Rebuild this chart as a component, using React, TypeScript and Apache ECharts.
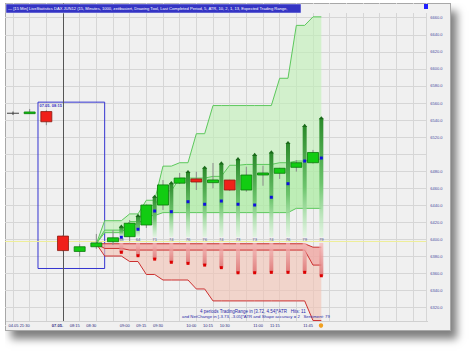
import React, { useEffect, useRef } from "react";
import * as echarts from "echarts";

// ---------------- data ----------------
const barTimes = ["04.05 21:15", "04.05 21:30", "04.05 21:45", "07.05.", "08:15", "08:30", "08:45", "09:00", "09:15", "09:30", "09:45", "10:00", "10:15", "10:30", "10:45", "11:00", "11:15", "11:30", "11:45"];
const labelledBars = [1, 3, 4, 5, 7, 8, 9, 11, 12, 13, 15, 16, 18];
const boldLabelBar = 3;

const candleOpen = [6548, 6547.5, 6550, 6404, 6386, 6391.5, 6397.4, 6403.3, 6417, 6440.4, 6466, 6471, 6466.6, 6469.7, 6458, 6475.6, 6477.6, 6484.6, 6490];
const candleClose = [6548, 6549.5, 6538, 6387, 6391.5, 6396, 6402, 6419, 6440.4, 6464, 6472, 6467.4, 6469.8, 6458, 6475.6, 6478, 6483.5, 6490, 6502];
const candleLow = [6546, 6547.5, 6534, 6386, 6380, 6389, 6393.5, 6398, 6413.5, 6434.6, 6465, 6458, 6460, 6457, 6456, 6463, 6471, 6479.5, 6489];
const candleHigh = [6550, 6553, 6551.5, 6405, 6394.5, 6406.5, 6411, 6422.8, 6441, 6469.7, 6478, 6479.5, 6489.7, 6470, 6485.3, 6486.5, 6484, 6493, 6505];

// expected trading range envelopes (bars 6..18), starting from bar 5
const rangeStartBar = 5;
const rangeStartPrice = 6395;
const greenOuter = [6422, 6430, 6446, 6486, 6490, 6524, 6557, 6557, 6557, 6557, 6589, 6651, 6661];
const greenInnerTop = [6411, 6421, 6440, 6457, 6472, 6472, 6474, 6487, 6488, 6488, 6490, 6492, 6494];
const greenInnerBottom = [6408, 6418, 6428, 6431.5, 6431.5, 6431.5, 6431.5, 6431.5, 6431.5, 6431.5, 6431.5, 6436.5, 6436.5];
const redInnerTop = [6395, 6395, 6395, 6395, 6395, 6395, 6395, 6395, 6395, 6395, 6395, 6395, 6391];
const redInnerBottom = [6389.5, 6387.6, 6387.6, 6387.6, 6387.6, 6387.6, 6387.6, 6387.6, 6387.6, 6387.6, 6387.6, 6387.6, 6370];
const redOuter = [6380.6, 6374.2, 6359, 6352.5, 6352.5, 6342, 6328, 6328, 6328, 6328, 6328, 6328, 6305];

// forecast columns (between bars 6..18)
const colTop = [6415, 6427.5, 6450, 6466, 6479, 6484, 6489, 6494, 6499, 6502, 6513, 6533, 6542];
const colBlue = [6402.6, 6412, 6433.4, 6432.6, 6444.3, 6441.3, 6445.1, 6441.3, 6440.4, 6449.5, 6465.4, 6492, 6495.5];
const colRed = [6385, 6381, 6377, 6373.3, 6372, 6370, 6367, 6361, 6361, 6361.5, 6361.5, 6361.5, 6357.5];
const colLabels = [58, 64, 71, 74, 76, 76, 74, 73, 73, 74, 76, 79, 79];

const refPrice = 6398;
const lastClose = 6502;
const scaleHigh = 6669;
const scaleLow = 6307.5;
const boxStart = [1.5, 6561];
const boxEnd = [5.5, 6366];
const boxLabel = "07.05. 08:15";
const sessionBar = 3;

const titleText = "— [15 Min] LiveStatistics DAX JUN12 (15, Minutes, 1000, zeitbasiert, Drawing Tool, Last Completed Period, 5, ATR, 10, 2, 1, 13, Expected Trading Range,";
const infoLine1 = "4 periods TradingRange in [3.72, 4.54]*ATR   Hits: 11";
const infoLine2 = "and NetChange in [-3.73, -3.05]*ATR and Shape accuracy = 2   Sentiment: 79";

// ---------------- chart ----------------
const Y_MIN = 6300;
const Y_MAX = 6680;
const Y_STEP = 20;
const X_MIN = -1;
const X_MAX = 24.8;
const FONT = "Liberation Sans, Arial, sans-serif";

function stepLine(vals: number[]): number[][] {
  const pts: number[][] = [[rangeStartBar, rangeStartPrice]];
  vals.forEach((v, i) => {
    const n = rangeStartBar + 1 + i;
    pts.push([i === 0 ? n - 0.5 : n, v]);
    pts.push([n + 0.5, v]);
  });
  return pts;
}

export default function App() {
  const ref = useRef<HTMLDivElement>(null);
  useEffect(() => {
    if (!ref.current) return;
    const chart = echarts.init(ref.current, null, { renderer: "svg" });

    const candleData = candleOpen.map((o, i) => [i, o, candleClose[i], candleLow[i], candleHigh[i]]);
    const colData = colTop.map((t, i) => [rangeStartBar + 1.5 + i, t, colBlue[i], colRed[i], colLabels[i]]);

    const gO = stepLine(greenOuter);
    const gT = stepLine(greenInnerTop);
    const gB = stepLine(greenInnerBottom);
    const rT = stepLine(redInnerTop);
    const rB = stepLine(redInnerBottom);
    const rO = stepLine(redOuter);

    const boxedLabel = (bg: string) => ({
      show: true, position: "end", distance: 3, fontSize: 4, color: "#4a4aa0", fontFamily: FONT,
      backgroundColor: bg, borderColor: "#9a9a9a", borderWidth: 0.6, padding: [1, 2, 1, 2],
    });

    const option: any = {
      animation: false,
      backgroundColor: "transparent",
      grid: { left: -3.667, top: 0.64, width: 430, height: 324.16, containLabel: false, outerBoundsMode: "none" },
      xAxis: [
        {
          type: "value", min: X_MIN, max: X_MAX, interval: 1, position: "top",
          axisLine: { show: false }, axisTick: { show: false }, axisLabel: { show: false },
          splitLine: { show: true, lineStyle: { color: "#d6d6d6", width: 1 } },
        },
        {
          type: "value", min: X_MIN, max: X_MAX, position: "bottom", z: 120,
          axisLine: { show: false }, axisTick: { show: false }, splitLine: { show: false },
          axisLabel: {
            show: true, customValues: labelledBars, margin: -1.5, align: "right",
            fontSize: 4, color: "#2a2a80", fontFamily: FONT,
            formatter: (v: number) => {
              const i = Math.round(v);
              return i === boldLabelBar ? "{b|" + barTimes[i] + "}" : barTimes[i];
            },
            rich: { b: { fontWeight: "bold", fontSize: 4, color: "#2a2a80", fontFamily: FONT } },
          },
        },
      ],
      yAxis: [
        {
          type: "value", min: Y_MIN, max: Y_MAX, interval: Y_STEP, position: "left",
          axisLine: { show: false }, axisTick: { show: false }, axisLabel: { show: false },
          splitLine: { show: true, lineStyle: { color: "#d6d6d6", width: 1 } },
        },
        {
          type: "value", min: Y_MIN, max: Y_MAX, interval: Y_STEP, position: "right", z: 120,
          axisLine: { show: false }, axisTick: { show: false }, splitLine: { show: false },
          axisLabel: {
            show: true, margin: 4, fontSize: 4, color: "#4a4aa0", fontFamily: FONT, align: "left",
            formatter: (v: number) => (v === Y_MIN || v === Y_MAX || v === 6500 ? "" : v.toFixed(1)),
          },
        },
      ],
      series: [
        {
          type: "custom",
          z: 1,
          clip: true,
          data: [[rangeStartBar, rangeStartPrice]],
          renderItem: (params: any, api: any) => {
            const c = (pts: number[][]) => pts.map((p) => api.coord(p));
            const band = (up: number[][], lo: number[][]) => c(up.concat(lo.slice().reverse()));
            const line = (pts: number[][], stroke: string) => ({
              type: "polyline", shape: { points: c(pts) }, style: { stroke, fill: "none", lineWidth: 1 },
            });
            return {
              type: "group",
              children: [
                { type: "polygon", shape: { points: band(gO, gB) }, style: { fill: "rgba(190,240,180,0.6)" } },
                { type: "polygon", shape: { points: band(gT, gB) }, style: { fill: "rgba(165,232,155,0.45)" } },
                { type: "polygon", shape: { points: band(rT, rO) }, style: { fill: "rgba(242,196,180,0.62)" } },
                { type: "polygon", shape: { points: band(rT, rB) }, style: { fill: "rgba(240,160,160,0.6)" } },
                line(gO, "#5cc85c"),
                line(gT, "#5cc85c"),
                line(gB, "#5cc85c"),
                line(rT, "#cc3030"),
                line(rB, "#cc3030"),
                line(rO, "#cc3030"),
              ],
            };
          },
          markLine: {
            z: 1,
            silent: true, symbol: "none", animation: false,
            data: [
              { yAxis: refPrice, lineStyle: { color: "#eeee99", width: 1, type: "solid" }, label: { show: false } },
              { xAxis: sessionBar, lineStyle: { color: "#555555", width: 1, type: "solid" }, label: { show: false } },
              { yAxis: scaleHigh, lineStyle: { opacity: 0 }, label: { ...boxedLabel("#f6f6f6"), formatter: scaleHigh.toFixed(1) } },
              { yAxis: lastClose, lineStyle: { opacity: 0 }, label: { ...boxedLabel("#ffffc0"), formatter: lastClose.toFixed(1) } },
              { yAxis: scaleLow, lineStyle: { opacity: 0 }, label: { ...boxedLabel("#f6f6f6"), formatter: scaleLow.toFixed(1) } },
            ],
          },
        },
        {
          type: "custom",
          z: 2,
          data: candleData,
          renderItem: (params: any, api: any) => {
            const n = api.value(0), o = api.value(1), cl = api.value(2), lo = api.value(3), hi = api.value(4);
            const pO = api.coord([n, o]), pC = api.coord([n, cl]), pL = api.coord([n, lo]), pH = api.coord([n, hi]);
            const x = pO[0];
            const w = 11;
            const flat = o === cl;
            const up = cl > o;
            const top = Math.min(pO[1], pC[1]);
            const h = Math.max(Math.abs(pO[1] - pC[1]), 1.5);
            const children: any[] = [
              { type: "line", shape: { x1: x, y1: pH[1], x2: x, y2: pL[1] }, style: { stroke: flat ? "#404040" : "#8a8a8a", lineWidth: 1 } },
            ];
            if (flat) {
              children.push({ type: "line", shape: { x1: x - 6, y1: pO[1], x2: x + 6, y2: pO[1] }, style: { stroke: "#404040", lineWidth: 1 } });
            } else {
              children.push({
                type: "rect", shape: { x: x - w / 2, y: top, width: w, height: h },
                style: { fill: up ? "#12cc12" : "#f0201a", stroke: up ? "#0a7a0a" : "#8a1a10", lineWidth: 0.8 },
              });
            }
            return { type: "group", children };
          },
          markArea: {
            z: 1,
            silent: true,
            itemStyle: { color: "rgba(0,0,0,0)", borderColor: "#3434d0", borderWidth: 1 },
            label: { show: true, position: "insideTopLeft", distance: 2, formatter: boxLabel, fontSize: 4, fontWeight: "bold", color: "#3434c0", fontFamily: FONT },
            data: [[{ coord: boxStart }, { coord: boxEnd }]],
          },
        },
        {
          type: "custom",
          z: 3,
          data: colData,
          renderItem: (params: any, api: any) => {
            const x = api.value(0);
            const top = api.coord([x, api.value(1)]);
            const blue = api.coord([x, api.value(2)]);
            const red = api.coord([x, api.value(3)]);
            const gBot = api.coord([x, 6403]);
            const rTop = api.coord([x, 6396]);
            const lab = api.coord([x, 6400]);
            const px = top[0];
            const w = 4;
            return {
              type: "group",
              children: [
                {
                  type: "rect", shape: { x: px - w / 2, y: top[1], width: w, height: gBot[1] - top[1] },
                  style: { fill: new echarts.graphic.LinearGradient(0, 0, 0, 1, [{ offset: 0, color: "#2a8a2a" }, { offset: 0.55, color: "#6cc46c" }, { offset: 1, color: "rgba(215,245,215,0.6)" }]) },
                },
                { type: "polygon", shape: { points: [[px - 2.6, top[1] + 1], [px + 2.6, top[1] + 1], [px, top[1] - 2.2]] }, style: { fill: "#1a6a1a" } },
                {
                  type: "rect", shape: { x: px - w / 2, y: rTop[1], width: w, height: red[1] - rTop[1] },
                  style: { fill: new echarts.graphic.LinearGradient(0, 0, 0, 1, [{ offset: 0, color: "rgba(245,185,185,0.7)" }, { offset: 1, color: "rgba(220,110,110,0.85)" }]) },
                },
                { type: "rect", shape: { x: blue[0] - 1.5, y: blue[1] - 1.5, width: 3, height: 3 }, style: { fill: "#1010e0" } },
                { type: "rect", shape: { x: red[0] - 1.5, y: red[1] - 1.5, width: 3, height: 3 }, style: { fill: "#dd0000" } },
                { type: "text", x: px, y: lab[1], style: { text: String(api.value(4)), fontSize: 4.2, fill: "#55558a", align: "center", verticalAlign: "middle", fontFamily: FONT } },
              ],
            };
          },
        },
      ],
      graphic: [
        { type: "rect", z: 100, shape: { x: 0, y: 0, width: 5, height: 352 }, style: { fill: "#ffffff" } },
        { type: "rect", z: 100, shape: { x: 0, y: 0, width: 469, height: 3 }, style: { fill: "#ffffff" } },
        { type: "rect", z: 100, shape: { x: 6, y: 4, width: 422, height: 9 }, style: { fill: "#f0f0f0" } },
        { type: "rect", z: 100, shape: { x: 6, y: 321.5, width: 422, height: 8.5 }, style: { fill: "#f0f0f0" } },
        { type: "line", z: 101, shape: { x1: 6, y1: 321.5, x2: 428, y2: 321.5 }, style: { stroke: "#d0d0d0", lineWidth: 1 } },
        { type: "rect", z: 110, shape: { x: 6, y: 4, width: 295, height: 9 }, style: { fill: "#3434c4", stroke: "#e8e8ff", lineWidth: 0.5 } },
        { type: "text", z: 111, x: 8, y: 8.7, style: { text: titleText, fontSize: 4.1, fill: "#ffffff", fontFamily: FONT, verticalAlign: "middle" } },
        { type: "rect", z: 110, shape: { x: 424, y: 4, width: 4, height: 5 }, style: { fill: "#2020ff" } },
        { type: "text", z: 111, x: 200, y: 311, style: { text: infoLine1, fontSize: 4.5, fill: "#2828a8", fontFamily: FONT, verticalAlign: "middle" } },
        { type: "text", z: 111, x: 182, y: 316.5, style: { text: infoLine2, fontSize: 4.3, fill: "#2828a8", fontFamily: FONT, verticalAlign: "middle" } },
        { type: "circle", z: 111, shape: { cx: 321, cy: 325.5, r: 2.2 }, style: { fill: "#f0a020" } },
      ],
    };
    chart.setOption(option);
    return () => chart.dispose();
  }, []);

  return (
    <div style={{ position: "fixed", left: 0, top: 0, width: 469, height: 352, background: "#ffffff", overflow: "hidden" }}>
      <div
        style={{
          position: "absolute", left: 5, top: 3, width: 444, height: 326,
          background: "#f0f0f0", border: "1px solid #a8a8a8",
          boxShadow: "6px 8px 8px rgba(0,0,0,0.5)",
        }}
      />
      <div ref={ref} style={{ position: "absolute", left: 0, top: 0, width: 469, height: 352 }} />
    </div>
  );
}
